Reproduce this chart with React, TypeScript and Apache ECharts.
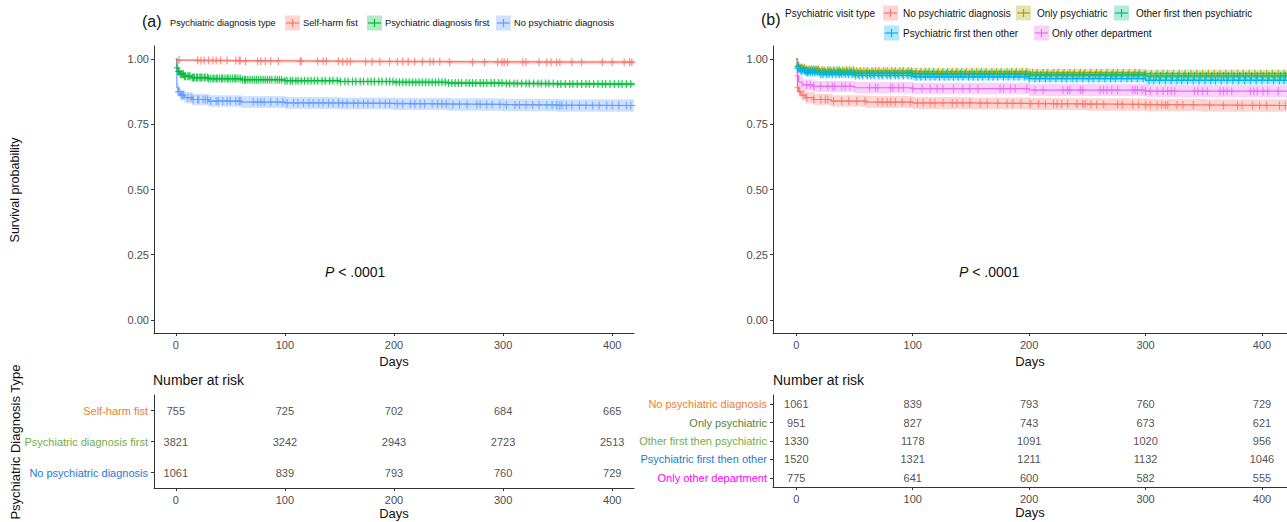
import React, { useEffect, useRef } from "react";
import * as echarts from "echarts";

// ---------- axes ----------
const dayTicks = [0, 100, 200, 300, 400];
const survTicks = [0, 0.25, 0.5, 0.75, 1];
const riskDays = [0, 100, 200, 300, 400];

// ---------- panel (a) ----------
const groupsA = ["Self-harm fist", "Psychiatric diagnosis first", "No psychiatric diagnosis"];
const colorsA = ["#F8766D", "#00BA38", "#619CFF"];
const tableColorsA = ["#ED7D31", "#70AD47", "#1F78D1"];

// [day, survival, lower CI, upper CI]
const kmSelfHarm = [[0, 1, 1, 1], [1, 0.996, 0.991, 1], [20, 0.994, 0.988, 0.999], [60, 0.992, 0.986, 0.998], [150, 0.99, 0.983, 0.997], [250, 0.988, 0.98, 0.995], [421, 0.987, 0.979, 0.994]];
const kmPsychFirst = [[0, 1, 1, 1], [1, 0.966, 0.96, 0.972], [2, 0.952, 0.945, 0.959], [4, 0.942, 0.935, 0.949], [8, 0.934, 0.926, 0.942], [15, 0.929, 0.921, 0.937], [30, 0.925, 0.917, 0.933], [60, 0.921, 0.913, 0.929], [100, 0.917, 0.908, 0.926], [150, 0.914, 0.905, 0.923], [200, 0.911, 0.902, 0.92], [250, 0.908, 0.899, 0.917], [300, 0.906, 0.897, 0.915], [350, 0.904, 0.895, 0.913], [421, 0.902, 0.892, 0.912]];
const kmNoPsych = [[0, 1, 1, 1], [1, 0.89, 0.871, 0.909], [2, 0.875, 0.855, 0.895], [4, 0.862, 0.841, 0.883], [8, 0.852, 0.83, 0.874], [15, 0.845, 0.823, 0.867], [30, 0.839, 0.817, 0.861], [60, 0.835, 0.812, 0.858], [100, 0.832, 0.809, 0.855], [150, 0.83, 0.807, 0.853], [200, 0.828, 0.805, 0.851], [250, 0.826, 0.802, 0.85], [300, 0.824, 0.8, 0.848], [350, 0.822, 0.798, 0.846], [421, 0.82, 0.795, 0.845]];

const censorSelfHarm = [3, 20, 23, 26, 30, 34, 37, 41, 47, 55, 58, 59, 64, 75, 78, 82, 87, 94, 114, 115, 130, 135, 138, 149, 153, 157, 160, 174, 180, 187, 196, 203, 208, 213, 219, 226, 233, 236, 242, 251, 272, 283, 295, 299, 301, 304, 318, 321, 333, 340, 344, 349, 352, 363, 372, 391, 400, 411, 416, 418];
const censorPsychFirst = [1, 2, 3, 4, 5, 6, 7, 8, 9, 11, 12, 13, 15, 16, 17, 19, 20, 22, 23, 24, 26, 27, 29, 30, 32, 34, 35, 37, 38, 40, 42, 43, 45, 47, 48, 50, 52, 54, 55, 57, 59, 61, 63, 64, 66, 68, 70, 72, 74, 76, 78, 80, 82, 84, 86, 88, 91, 93, 95, 97, 100, 102, 105, 107, 110, 112, 115, 118, 121, 124, 127, 130, 134, 137, 141, 144, 148, 151, 155, 158, 162, 165, 169, 172, 176, 179, 182, 186, 189, 193, 196, 199, 202, 205, 208, 211, 214, 217, 220, 223, 226, 229, 232, 235, 238, 241, 244, 247, 250, 253, 256, 259, 262, 266, 269, 272, 275, 279, 282, 285, 289, 292, 296, 299, 303, 306, 310, 313, 317, 321, 324, 328, 332, 335, 339, 342, 346, 350, 353, 357, 361, 364, 368, 372, 376, 379, 383, 387, 391, 394, 398, 402, 406, 409, 413, 417];
const censorNoPsychA = [2, 3, 5, 6, 7, 11, 14, 16, 20, 21, 25, 27, 29, 32, 37, 39, 43, 47, 50, 55, 58, 59, 71, 75, 78, 81, 87, 93, 98, 102, 108, 112, 117, 122, 126, 131, 135, 140, 144, 149, 153, 157, 163, 167, 172, 176, 181, 187, 192, 196, 203, 208, 215, 219, 224, 228, 235, 240, 244, 248, 254, 260, 267, 276, 279, 285, 290, 297, 303, 311, 315, 321, 327, 333, 340, 345, 349, 352, 354, 358, 363, 370, 376, 382, 388, 395, 400, 406, 413, 417];

const riskSelfHarm = [755, 725, 702, 684, 665];
const riskPsychFirst = [3821, 3242, 2943, 2723, 2513];
const riskNoPsych = [1061, 839, 793, 760, 729];

// ---------- panel (b) ----------
const groupsB = ["No psychiatric diagnosis", "Only psychiatric", "Other first then psychiatric", "Psychiatric first then other", "Only other department"];
const colorsB = ["#F8766D", "#A3A500", "#00BF7D", "#00B0F6", "#E76BF3"];
const tableColorsB = ["#ED7D31", "#548235", "#70AD47", "#1F78D1", "#FF00FF"];

const kmOnlyPsych = [[0, 1, 1, 1], [1, 0.976, 0.966, 0.986], [3, 0.967, 0.955, 0.979], [8, 0.961, 0.949, 0.973], [20, 0.957, 0.944, 0.97], [50, 0.954, 0.941, 0.967], [100, 0.951, 0.937, 0.965], [200, 0.947, 0.932, 0.962], [300, 0.944, 0.929, 0.959], [422, 0.941, 0.925, 0.957]];
const kmOtherThenPsych = [[0, 1, 1, 1], [1, 0.972, 0.963, 0.981], [3, 0.962, 0.952, 0.972], [8, 0.955, 0.944, 0.966], [20, 0.95, 0.938, 0.962], [50, 0.946, 0.934, 0.958], [100, 0.943, 0.93, 0.956], [200, 0.939, 0.926, 0.952], [300, 0.935, 0.921, 0.949], [422, 0.932, 0.917, 0.947]];
const kmPsychThenOther = [[0, 1, 1, 1], [1, 0.965, 0.956, 0.974], [3, 0.955, 0.945, 0.965], [8, 0.948, 0.937, 0.959], [20, 0.942, 0.93, 0.954], [50, 0.937, 0.925, 0.949], [100, 0.932, 0.919, 0.945], [200, 0.925, 0.911, 0.939], [300, 0.918, 0.903, 0.933], [422, 0.912, 0.896, 0.928]];
const kmOnlyOther = [[0, 1, 1, 1], [1, 0.935, 0.917, 0.953], [2, 0.912, 0.892, 0.932], [5, 0.901, 0.88, 0.922], [15, 0.895, 0.874, 0.916], [50, 0.89, 0.868, 0.912], [100, 0.887, 0.865, 0.909], [200, 0.881, 0.858, 0.904], [300, 0.877, 0.853, 0.901], [422, 0.875, 0.85, 0.9]];

const censorNoPsychB = [1, 3, 6, 9, 15, 21, 25, 27, 32, 39, 45, 52, 59, 70, 74, 78, 81, 85, 91, 98, 104, 109, 115, 119, 126, 134, 138, 143, 149, 158, 164, 173, 181, 186, 193, 201, 208, 214, 221, 224, 228, 233, 241, 246, 248, 253, 258, 264, 276, 280, 289, 294, 300, 304, 310, 314, 317, 319, 327, 332, 341, 355, 367, 379, 383, 392, 398, 404, 415, 420];
const censorOnlyPsych = [2, 4, 5, 7, 9, 11, 13, 15, 17, 19, 22, 24, 27, 29, 32, 35, 37, 40, 43, 46, 49, 52, 55, 58, 61, 65, 68, 71, 75, 78, 82, 85, 89, 92, 96, 99, 103, 107, 111, 114, 118, 122, 126, 130, 134, 138, 142, 146, 151, 155, 159, 163, 168, 172, 176, 181, 185, 189, 194, 198, 203, 207, 212, 216, 221, 225, 230, 235, 239, 244, 248, 253, 258, 262, 267, 272, 276, 281, 286, 291, 295, 300, 305, 310, 315, 319, 324, 329, 334, 339, 344, 349, 354, 359, 364, 369, 374, 379, 384, 389, 394, 399, 404, 409, 414, 419];
const censorOtherThenPsych = [1, 3, 4, 6, 8, 10, 12, 14, 16, 18, 20, 23, 25, 28, 30, 33, 36, 38, 41, 44, 47, 50, 53, 56, 60, 63, 66, 70, 73, 77, 80, 84, 87, 91, 95, 98, 102, 106, 110, 113, 117, 121, 125, 129, 133, 137, 141, 145, 149, 153, 158, 162, 166, 170, 175, 179, 183, 188, 192, 197, 201, 206, 210, 215, 219, 224, 229, 233, 238, 243, 247, 252, 257, 261, 266, 271, 275, 280, 285, 290, 294, 299, 304, 309, 313, 318, 323, 328, 333, 337, 342, 347, 352, 357, 362, 367, 371, 376, 381, 386, 391, 396, 401, 406, 411, 416, 420];
const censorPsychThenOther = [1, 2, 4, 5, 7, 9, 10, 12, 14, 16, 18, 21, 23, 26, 28, 31, 34, 37, 39, 42, 45, 48, 51, 54, 57, 61, 64, 67, 71, 74, 78, 81, 85, 88, 92, 96, 99, 103, 107, 111, 115, 119, 123, 127, 131, 135, 139, 143, 148, 152, 156, 160, 165, 169, 173, 178, 182, 187, 191, 196, 200, 205, 209, 214, 218, 223, 228, 232, 237, 241, 246, 251, 255, 260, 265, 270, 274, 279, 284, 288, 293, 298, 303, 307, 312, 317, 322, 327, 331, 336, 341, 346, 351, 356, 360, 365, 370, 375, 380, 385, 390, 395, 400, 405, 410, 415, 419];
const censorOnlyOther = [1, 9, 12, 15, 21, 27, 31, 33, 39, 42, 46, 63, 68, 70, 81, 83, 88, 92, 100, 108, 115, 121, 126, 135, 143, 149, 156, 175, 178, 184, 188, 198, 205, 212, 229, 233, 235, 244, 246, 261, 264, 267, 271, 276, 289, 291, 293, 297, 300, 304, 310, 315, 319, 322, 325, 342, 345, 349, 353, 364, 367, 370, 374, 390, 393, 396, 401, 405, 414];

const riskOnlyPsych = [951, 827, 743, 673, 621];
const riskOtherThenPsych = [1330, 1178, 1091, 1020, 956];
const riskPsychThenOther = [1520, 1321, 1211, 1132, 1046];
const riskOnlyOther = [775, 641, 600, 582, 555];

// ---------- helpers ----------
const FONT = "'Liberation Sans', Arial, sans-serif";
const PLUS = "path://M2.4,0H3.6V3.4H6V4.6H3.6V8H2.4V4.6H0V3.4H2.4Z";

function rgba(hex: string, a: number) {
  const n = parseInt(hex.slice(1), 16);
  return `rgba(${(n >> 16) & 255},${(n >> 8) & 255},${n & 255},${a})`;
}
function stepAt(km: number[][], t: number) {
  let y = km[0][1];
  for (const p of km) {
    if (p[0] <= t) y = p[1];
    else break;
  }
  return y;
}

function curveSeries(id: string, km: number[][], censor: number[], color: string, gi: number, bandAlpha: number) {
  const fill = rgba(color, bandAlpha);
  return [
    {
      type: "custom", name: id + "-band", xAxisIndex: gi, yAxisIndex: gi, silent: true, z: 1,
      data: km.slice(0, -1).map((p, i) => [p[0], km[i + 1][0], p[2], p[3]]),
      renderItem: (params: any, api: any) => {
        const a = api.coord([api.value(0), api.value(3)]);
        const b = api.coord([api.value(1), api.value(2)]);
        const r = echarts.graphic.clipRectByRect(
          { x: a[0], y: a[1], width: b[0] - a[0] + 0.6, height: b[1] - a[1] },
          params.coordSys
        );
        return r ? { type: "rect", shape: r, style: { fill } } : null;
      },
    },
    {
      type: "line", name: id, xAxisIndex: gi, yAxisIndex: gi, step: "end", symbol: "none", silent: true, clip: true,
      data: km.map((p) => [p[0], p[1]]), lineStyle: { color, width: 1.2 }, z: 3,
    },
    {
      type: "scatter", name: id + "-censor", xAxisIndex: gi, yAxisIndex: gi, silent: true, clip: true,
      symbol: PLUS, symbolSize: [6, 8], itemStyle: { color }, z: 4,
      data: censor.map((d) => [d, stepAt(km, d)]),
    },
  ];
}

function riskSeries(groups: string[], rows: number[][], gi: number) {
  const data: any[] = [];
  groups.forEach((g, i) => rows[i].forEach((v, j) => data.push([riskDays[j], g, v])));
  return {
    type: "scatter", xAxisIndex: gi, yAxisIndex: gi, silent: true,
    symbol: "circle", symbolSize: 1, itemStyle: { color: "transparent" },
    label: { show: true, position: "inside", formatter: (p: any) => String(p.value[2]), color: "#222", fontSize: 11, fontFamily: FONT },
    data,
  };
}

const axisCommon = {
  axisLine: { show: true, onZero: false, lineStyle: { color: "#333", width: 1 } },
  splitLine: { show: false },
};

function dayAxis(gi: number, max: number) {
  return {
    ...axisCommon, type: "value", gridIndex: gi, min: -20, max,
    axisTick: { show: true, length: 3, lineStyle: { color: "#333" }, customValues: dayTicks },
    axisLabel: { color: "#4D4D4D", fontSize: 11, fontFamily: FONT, margin: 6, customValues: dayTicks },
    name: "Days", nameLocation: "middle", nameGap: 19,
    nameTextStyle: { color: "#111", fontSize: 13, fontFamily: FONT },
  };
}
function survAxis(gi: number) {
  return {
    ...axisCommon, type: "value", gridIndex: gi, min: -0.05, max: 1.05,
    axisTick: { show: true, length: 3, lineStyle: { color: "#333" }, customValues: survTicks },
    axisLabel: { color: "#4D4D4D", fontSize: 11, fontFamily: FONT, margin: 5, customValues: survTicks, formatter: (v: number) => v.toFixed(2) },
  };
}
function groupAxis(gi: number, groups: string[], colors: string[]) {
  return {
    ...axisCommon, type: "category", gridIndex: gi, data: groups, inverse: true,
    axisTick: { show: true, length: 3, alignWithLabel: true, lineStyle: { color: "#333" } },
    axisLabel: { fontSize: 11, fontFamily: FONT, margin: 6, color: (v: string) => colors[groups.indexOf(v)] },
  };
}

function legendKey(x: number, cy: number, color: string) {
  return {
    type: "group", children: [
      { type: "rect", shape: { x, y: cy - 7.5, width: 15, height: 15 }, style: { fill: rgba(color, 0.3) } },
      { type: "line", shape: { x1: x + 1, y1: cy, x2: x + 14, y2: cy }, style: { stroke: color, lineWidth: 1.2 } },
      { type: "line", shape: { x1: x + 7.5, y1: cy - 4, x2: x + 7.5, y2: cy + 4 }, style: { stroke: color, lineWidth: 1.2 } },
    ],
  };
}
function txt(x: number, y: number, text: string, size: number, extra: any = {}) {
  return { type: "text", x, y, style: { text, fontSize: size, fontFamily: FONT, fill: "#111", textVerticalAlign: "middle", ...extra } };
}

export default function App() {
  const ref = useRef<HTMLDivElement>(null);
  useEffect(() => {
    if (!ref.current) return;
    const chart = echarts.init(ref.current, undefined, { renderer: "svg" });
    const kmA = [kmSelfHarm, kmPsychFirst, kmNoPsych];
    const censorA = [censorSelfHarm, censorPsychFirst, censorNoPsychA];
    const bandA = [0.25, 0.25, 0.3];
    const kmB = [kmNoPsych, kmOnlyPsych, kmOtherThenPsych, kmPsychThenOther, kmOnlyOther];
    const censorB = [censorNoPsychB, censorOnlyPsych, censorOtherThenPsych, censorPsychThenOther, censorOnlyOther];
    const bandB = [0.3, 0.3, 0.3, 0.3, 0.3];

    const series: any[] = [];
    groupsA.forEach((g, i) => series.push(...curveSeries("a" + i, kmA[i], censorA[i], colorsA[i], 0, bandA[i])));
    groupsB.forEach((g, i) => series.push(...curveSeries("b" + i, kmB[i], censorB[i], colorsB[i], 1, bandB[i])));
    series.push(riskSeries(groupsA, [riskSelfHarm, riskPsychFirst, riskNoPsych], 2));
    series.push(riskSeries(groupsB, [riskNoPsych, riskOnlyPsych, riskOtherThenPsych, riskPsychThenOther, riskOnlyOther], 3));

    const pStyle = { text: "{i|P} < .0001", rich: { i: { fontStyle: "italic", fontSize: 14, fontFamily: FONT, fill: "#111" } }, fontSize: 14, fontFamily: FONT, fill: "#111", textVerticalAlign: "middle" };
    const graphic: any[] = [
      txt(142, 21, "(a)", 16),
      txt(170, 23, "Psychiatric diagnosis type", 9.2),
      legendKey(285, 23, colorsA[0]), txt(303, 23, groupsA[0], 9.3),
      legendKey(367, 23, colorsA[1]), txt(385, 23, groupsA[1], 9.3),
      legendKey(496, 23, colorsA[2]), txt(514, 23, groupsA[2], 9.3),
      txt(761, 19, "(b)", 16),
      txt(785, 13, "Psychiatric visit type", 10),
      legendKey(883, 13, colorsB[0]), txt(903, 13, groupsB[0], 10),
      legendKey(1016, 13, colorsB[1]), txt(1037, 13, groupsB[1], 10),
      legendKey(1114, 13, colorsB[2]), txt(1136, 13, groupsB[2], 10),
      legendKey(884, 33, colorsB[3]), txt(903, 33, groupsB[3], 10),
      legendKey(1034, 33, colorsB[4]), txt(1052, 33, groupsB[4], 10),
      { type: "text", x: 15, y: 190, rotation: Math.PI / 2, style: { text: "Survival probability", fontSize: 12.5, fontFamily: FONT, fill: "#111", textAlign: "center", textVerticalAlign: "middle" } },
      { type: "text", x: 15, y: 442, rotation: Math.PI / 2, style: { text: "Psychiatric Diagnosis Type", fontSize: 13, fontFamily: FONT, fill: "#111", textAlign: "center", textVerticalAlign: "middle" } },
      { type: "text", x: 325, y: 272, style: pStyle },
      { type: "text", x: 959, y: 272, style: pStyle },
      txt(153, 380, "Number at risk", 14),
      txt(773, 380, "Number at risk", 14),
    ];

    chart.setOption({
      animation: false,
      backgroundColor: "#fff",
      grid: [
        { left: 154, top: 46, width: 480, height: 287 },
        { left: 773, top: 46, width: 514, height: 287 },
        { left: 154, top: 395, width: 480, height: 93 },
        { left: 773, top: 395, width: 514, height: 92 },
      ],
      xAxis: [dayAxis(0, 420), dayAxis(1, 421.5), dayAxis(2, 420), dayAxis(3, 421.5)],
      yAxis: [survAxis(0), survAxis(1), groupAxis(2, groupsA, tableColorsA), groupAxis(3, groupsB, tableColorsB)],
      series,
      graphic,
    });
    return () => chart.dispose();
  }, []);
  return <div ref={ref} style={{ position: "absolute", left: 0, top: 0, width: 1287, height: 522 }} />;
}
